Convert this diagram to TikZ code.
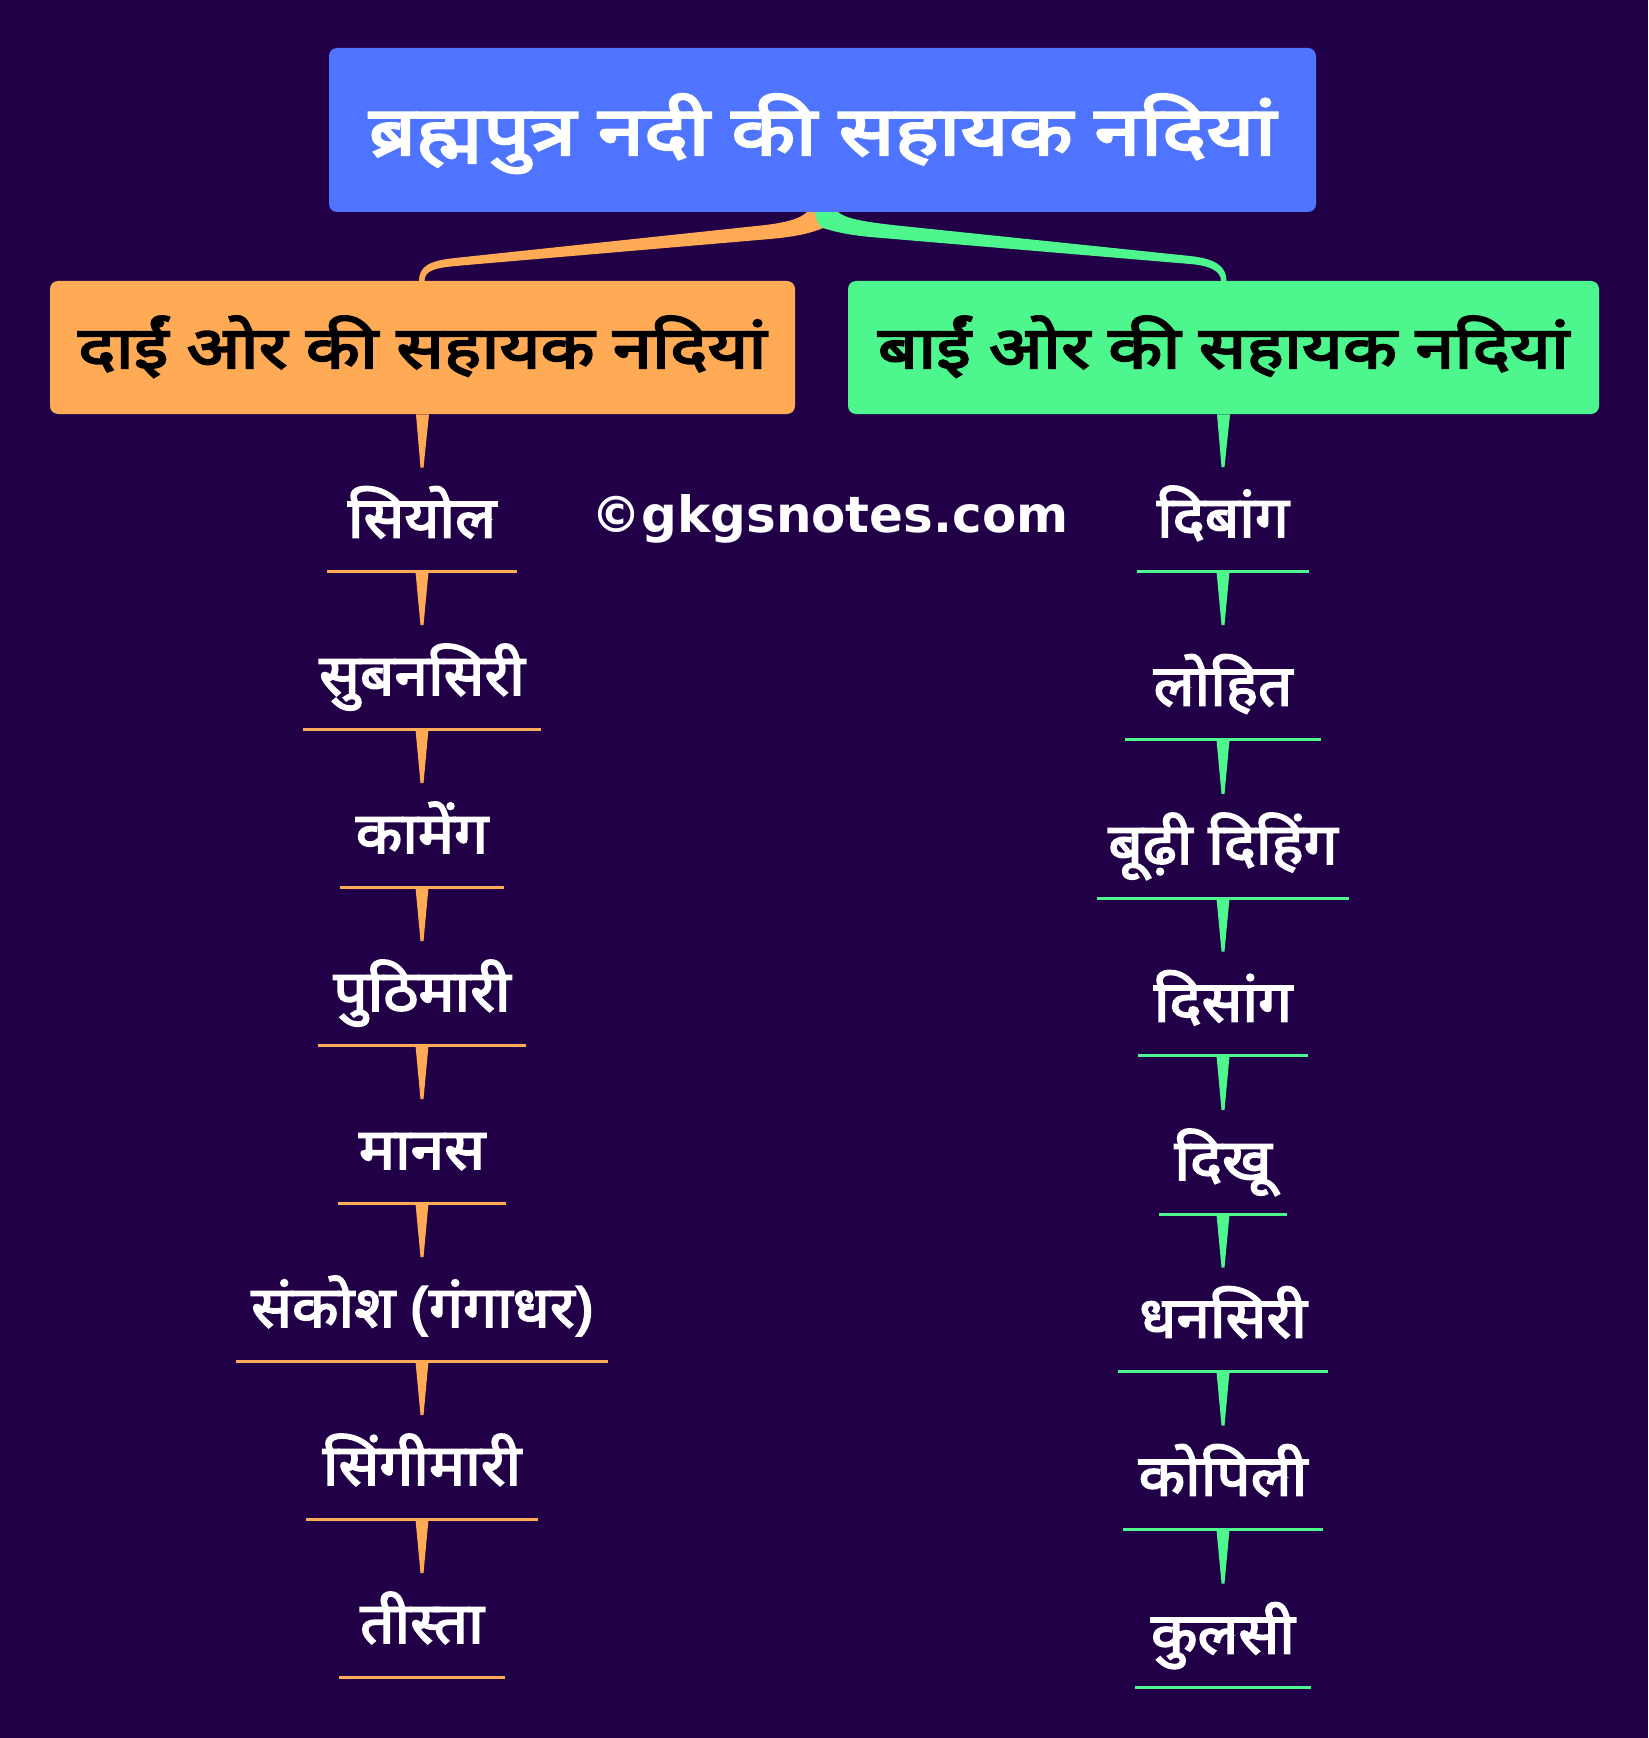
\documentclass[tikz,border=0pt]{standalone}
\usepackage{fontspec}
\usetikzlibrary{calc,backgrounds}
\newfontfamily\devaitem[Script=Devanagari, FakeBold=3, FakeStretch=1.06]{Noto Sans}
\newfontfamily\devatitle[Script=Devanagari, FakeBold=3.6, FakeStretch=1.224]{Noto Sans}
\newfontfamily\devabox[Script=Devanagari, FakeBold=3.6, FakeStretch=1.214]{Noto Sans}
\newfontfamily\wmfont{DejaVu Sans}
\definecolor{bgpurple}{RGB}{34,0,72}
\definecolor{titleblue}{RGB}{79,116,255}
\definecolor{rorange}{RGB}{255,170,84}
\definecolor{lgreen}{RGB}{78,246,142}
\begin{document}
\begin{tikzpicture}[x=0.5pt,y=-0.5pt,
  titlebox/.style={fill=titleblue, rounded corners=4pt, inner sep=0pt, anchor=base,
    text height=53.5pt, text depth=28.5pt, minimum width=493.5pt, text=white,
    font=\devatitle\fontsize{34}{36}\selectfont},
  branchbox/.style={fill=#1, rounded corners=4pt, inner sep=0pt, anchor=base,
    text height=43.5pt, text depth=23pt, text=black,
    font=\devabox\fontsize{29}{31}\selectfont},
  item/.style={anchor=base, inner sep=0pt, text depth=17pt, text height=34.75pt,
    text=white, font=\devaitem\fontsize{28.5}{30}\selectfont},
  uline/.style={draw=#1, line width=1.5pt},
  watermark/.style={anchor=base, inner sep=0pt, text=white,
    font=\wmfont\bfseries\fontsize{25}{28}\selectfont}
]
\useasboundingbox (0,0) rectangle (1648,1738);

% boxes
\node[titlebox] (T) at (822.5,155) {ब्रह्मपुत्र नदी की सहायक नदियां\hspace{8pt}};
\node[branchbox=rorange, minimum width=372.5pt] (LB) at (422.5,368) {दाईं ओर की सहायक नदियां};
\node[branchbox=lgreen, minimum width=375.5pt] (RB) at (1223.5,368) {बाईं ओर की सहायक नदियां};

\node[watermark] (W) at (830,532) {©gkgsnotes.com};

% left column
\node[item, minimum width=94.5pt] (L1) at (422,537.5) {सियोल};
\node[item, minimum width=119pt] (L2) at (422,695) {सुबनसिरी};
\node[item, minimum width=82pt] (L3) at (422,853) {कामेंग};
\node[item, minimum width=103.5pt] (L4) at (422,1011) {पुठिमारी};
\node[item, minimum width=84pt] (L5) at (422,1169) {मानस};
\node[item, minimum width=186pt] (L6) at (422,1327) {संकोश (गंगाधर)};
\node[item, minimum width=115.5pt] (L7) at (422,1485) {सिंगीमारी};
\node[item, minimum width=82.5pt] (L8) at (422,1643) {तीस्ता};

% right column
\node[item, minimum width=86pt] (R1) at (1223,537) {दिबांग};
\node[item, minimum width=97.5pt, text height=40pt] (R2) at (1223,705.5) {लोहित};
\node[item, minimum width=126pt] (R3) at (1223,864) {बूढ़ी दिहिंग};
\node[item, minimum width=85pt] (R4) at (1223,1021.5) {दिसांग};
\node[item, minimum width=64pt] (R5) at (1223,1180) {दिखू};
\node[item, minimum width=105pt] (R6) at (1223,1337.5) {धनसिरी};
\node[item, minimum width=100pt] (R7) at (1223,1495.5) {कोपिली};
\node[item, minimum width=87.5pt] (R8) at (1223,1653.5) {कुलसी};

% underlines
\foreach \n in {L1,L2,L3,L4,L5,L6,L7,L8}
  \draw[uline=rorange] (\n.south west) -- (\n.south east);
\foreach \n in {R1,R2,R3,R4,R5,R6,R7,R8}
  \draw[uline=lgreen] (\n.south west) -- (\n.south east);

% tapered spikes
\foreach \a/\b in {LB/L1,L1/L2,L2/L3,L3/L4,L4/L5,L5/L6,L6/L7,L7/L8}
  \fill[rorange] ($(\a.south)+(-6.5,0)$) -- ($(\a.south)+(6.5,0)$)
     -- ($(\b.north)+(1.5,0)$) -- ($(\b.north)+(-1.5,0)$) -- cycle;
\foreach \a/\b in {RB/R1,R1/R2,R2/R3,R3/R4,R4/R5,R5/R6,R6/R7,R7/R8}
  \fill[lgreen] ($(\a.south)+(-6.5,0)$) -- ($(\a.south)+(6.5,0)$)
     -- ($(\b.north)+(1.5,0)$) -- ($(\b.north)+(-1.5,0)$) -- cycle;

\begin{pgfonlayer}{background}
  \fill[bgpurple] (0,0) rectangle (1648,1738);
  % orange ribbon: title -> left branch
  \fill[rorange] (807,205) -- (807,212) .. controls (800,219) and (785,223) .. (760,225.6)
     -- (455,258) .. controls (430,260.6) and (419,266) .. (419,281) -- (419,290)
     -- (424.5,290) -- (424.5,281) .. controls (424.5,270) and (436,267.7) .. (460,265.6)
     -- (770,239) .. controls (795,236.8) and (812,233) .. (823,228) -- (819,212) -- (819,205) -- cycle;
  % green ribbon: title -> right branch
  \fill[lgreen] (815,205) -- (815,212) .. controls (816,221) and (819,226) .. (823,228)
     .. controls (840,233.5) and (855,235.5) .. (870,237) -- (1190,264)
     .. controls (1210,265.7) and (1221,271) .. (1221,281) -- (1221,290)
     -- (1226.5,290) -- (1226.5,281) .. controls (1226.5,266) and (1215,258.6) .. (1190,256)
     -- (900,225.8) .. controls (860,221.6) and (845,218) .. (838,212) -- (838,205) -- cycle;
\end{pgfonlayer}
\end{tikzpicture}
\end{document}
